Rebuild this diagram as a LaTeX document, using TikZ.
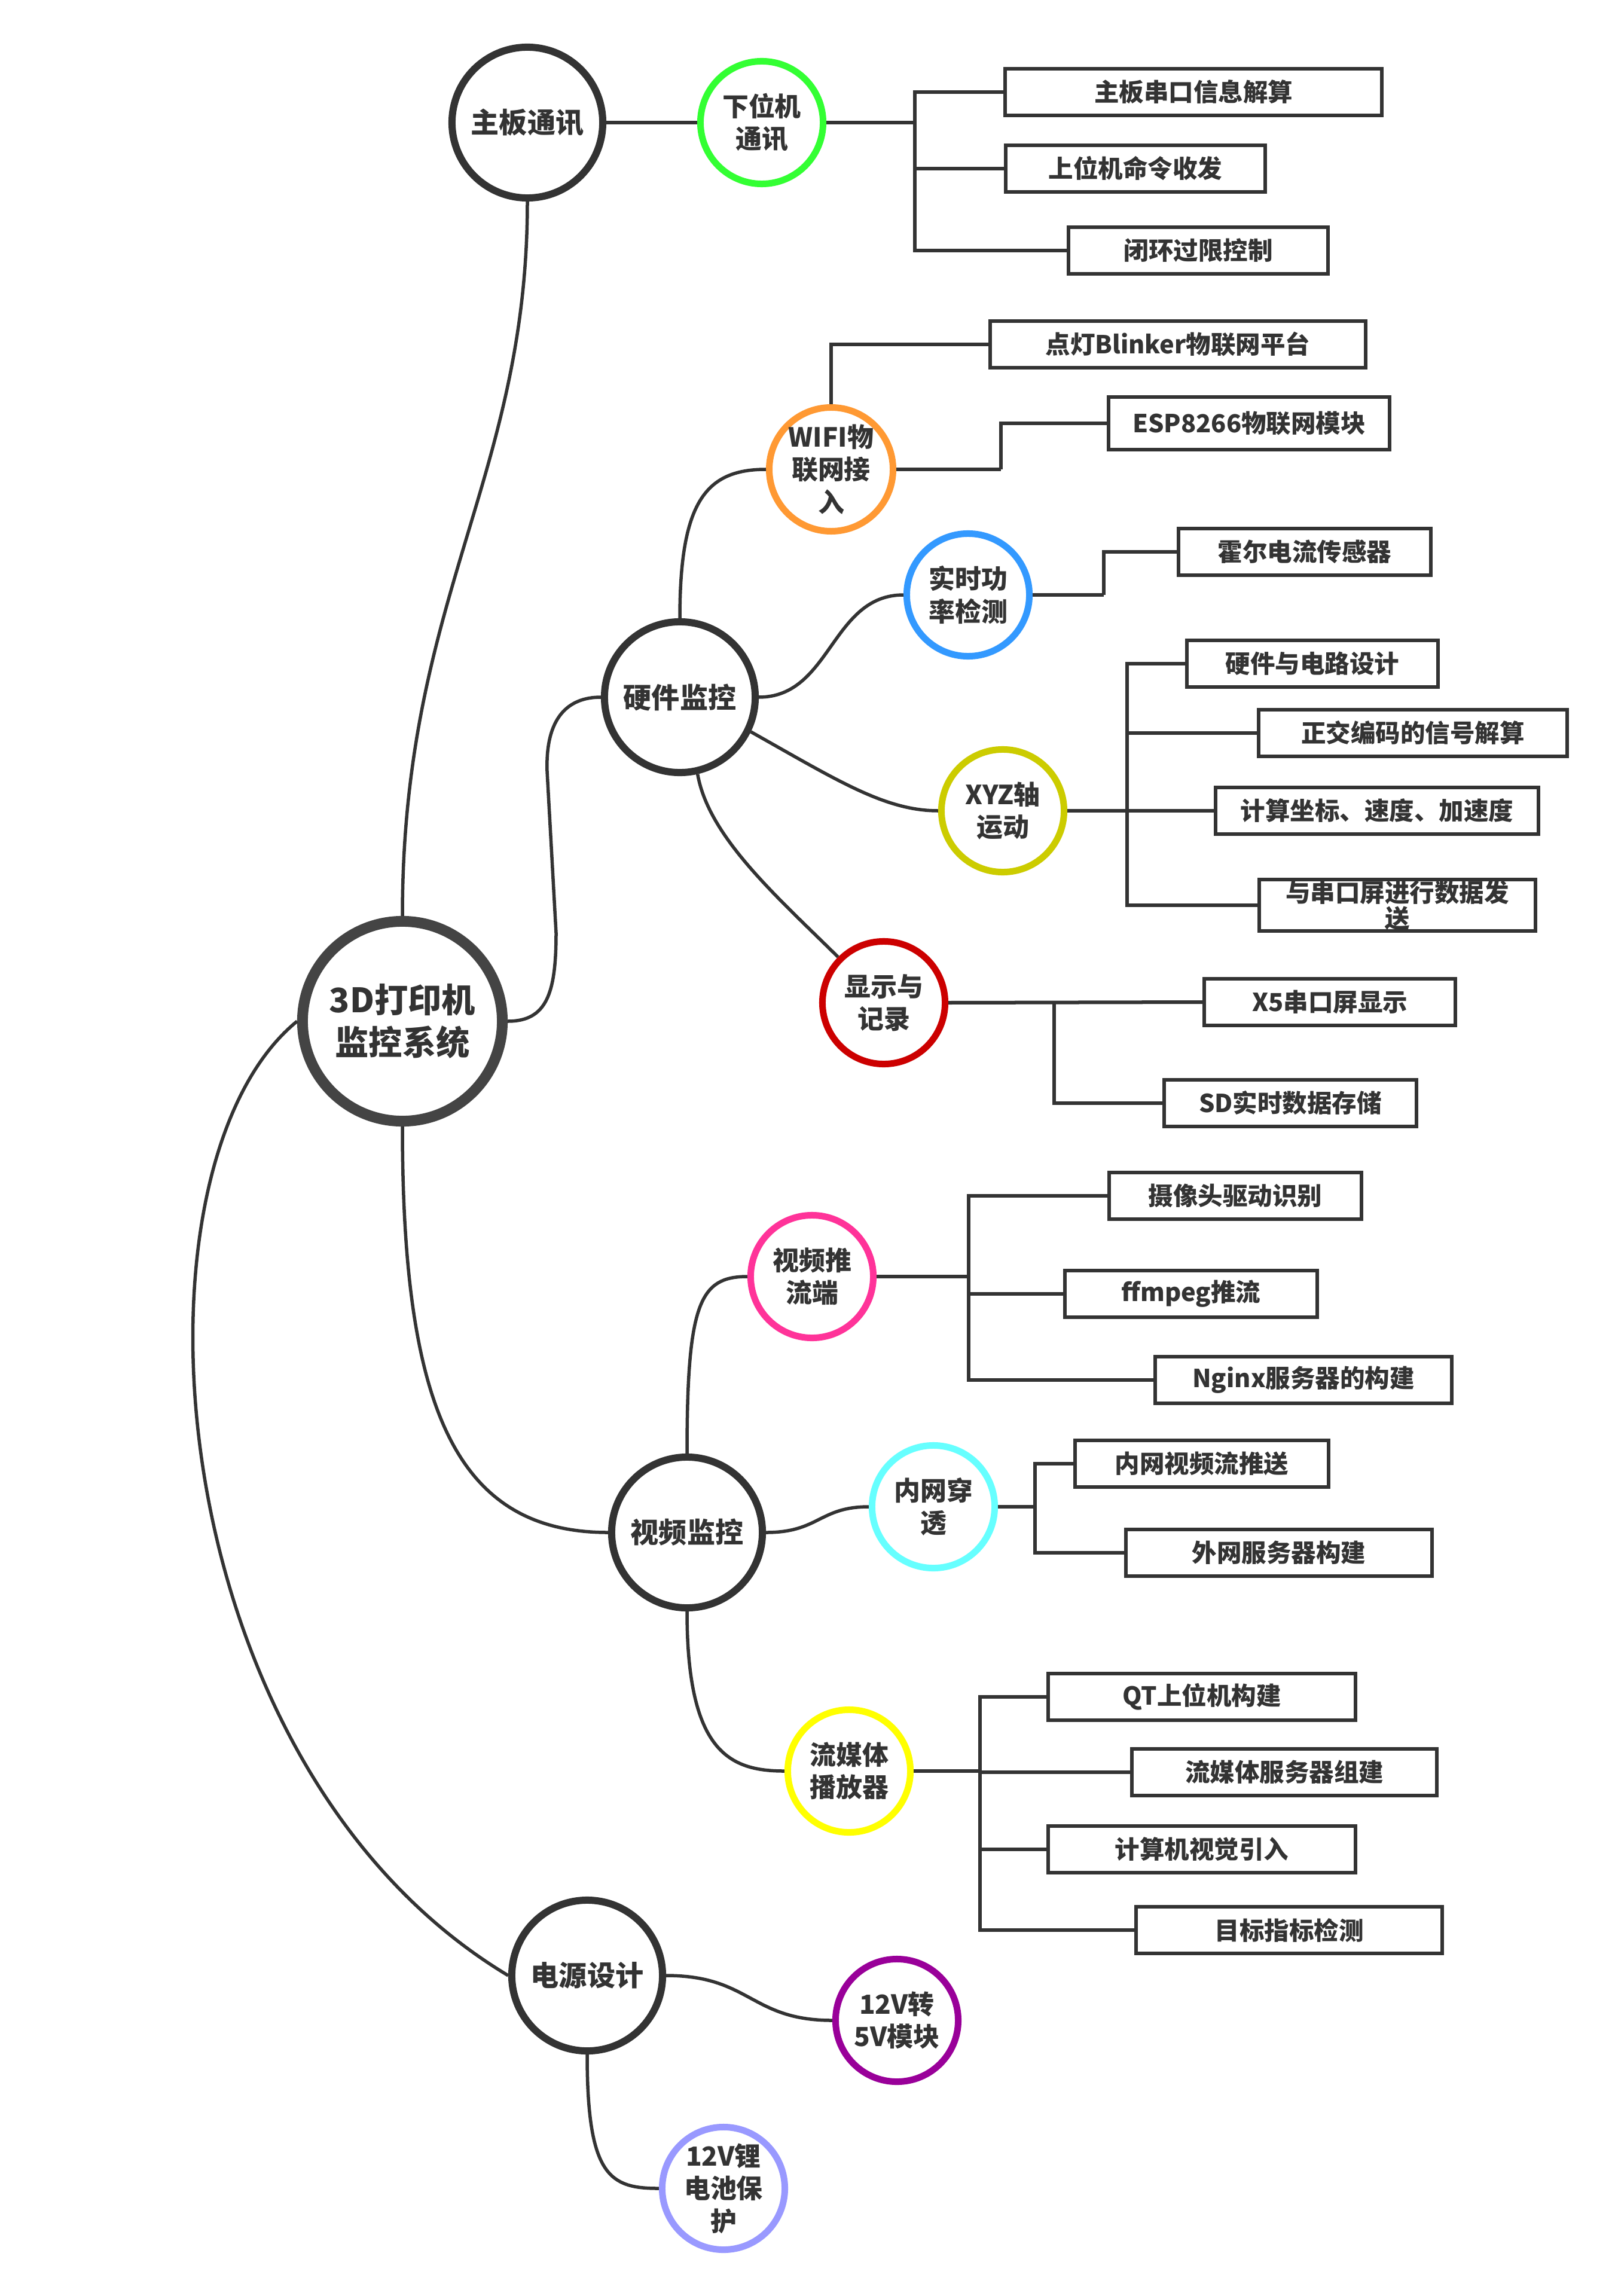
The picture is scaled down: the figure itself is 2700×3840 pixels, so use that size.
\documentclass[tikz,border=0pt]{standalone}
\usepackage{fontspec}
\setmainfont{Noto Sans CJK SC}
\definecolor{ink}{HTML}{333333}
\definecolor{rootline}{HTML}{444444}
\definecolor{cgreen}{HTML}{33FF33}
\definecolor{corange}{HTML}{FF9933}
\definecolor{cblue}{HTML}{3399FF}
\definecolor{colive}{HTML}{CCCC00}
\definecolor{cred}{HTML}{CC0000}
\definecolor{cpink}{HTML}{FF3399}
\definecolor{ccyan}{HTML}{66FFFF}
\definecolor{cyellow}{HTML}{FFFF00}
\definecolor{cpurple}{HTML}{990099}
\definecolor{clavender}{HTML}{9999FF}
\begin{document}
\begin{tikzpicture}[x=0.01cm,y=-0.01cm,
  rootnode/.style={circle, draw=rootline, line width=0.18cm, minimum size=3.34cm,
    inner sep=0pt, align=center, text=ink, fill=white,
    font=\bfseries\fontsize{16}{20}\selectfont},
  topic/.style={circle, draw=ink, line width=0.12cm, minimum size=2.52cm,
    inner sep=0pt, align=center, text=ink, fill=white,
    font=\bfseries\fontsize{13.4}{16}\selectfont},
  subtopic/.style={circle, draw=#1, line width=0.11cm, minimum size=2.05cm,
    inner sep=0pt, align=center, text=ink, fill=white,
    font=\bfseries\fontsize{12.5}{15.5}\selectfont},
  leaf/.style={rectangle, draw=ink, line width=0.06cm, minimum height=0.78cm,
    minimum width=#1, inner sep=0pt, text=ink, fill=white, align=center,
    font=\bfseries\fontsize{11.8}{14}\selectfont},
  elbow/.style={draw=ink, line width=0.06cm},
  branch/.style={draw=ink, line width=0.055cm},
]
\fill[white] (0,0) rectangle (2700,3840);
\useasboundingbox (0,0) rectangle (2700,3840);

% central topic and main branches
\node[rootnode] (root) at (673,1708) {3D打印机\\监控系统};
\node[topic] (board) at (882,205) {主板通讯};
\node[topic] (hw) at (1137,1166) {硬件监控};
\node[topic] (video) at (1149,2563) {视频监控};
\node[topic] (psu) at (982,3304) {电源设计};

% second level
\node[subtopic=cgreen] (lower) at (1274,205) {下位机\\通讯};
\node[subtopic=corange] (wifi) at (1390,785) {WIFI物\\联网接\\入};
\node[subtopic=cblue] (power) at (1619,995) {实时功\\率检测};
\node[subtopic=colive] (xyz) at (1677,1356) {XYZ轴\\运动};
\node[subtopic=cred] (disp) at (1478,1677) {显示与\\记录};
\node[subtopic=cpink] (push) at (1358,2135) {视频推\\流端};
\node[subtopic=ccyan] (nat) at (1561,2520) {内网穿\\透};
\node[subtopic=cyellow] (player) at (1420,2962) {流媒体\\播放器};
\node[subtopic=cpurple] (conv) at (1500,3379) {12V转\\5V模块};
\node[subtopic=clavender] (bat) at (1210,3660) {12V锂\\电池保\\护};

% leaves
\node[leaf=6.29cm] (b11) at (1996,154) {主板串口信息解算};
\node[leaf=4.34cm] (b12) at (1899,282) {上位机命令收发};
\node[leaf=4.33cm] (b13) at (2004,419) {闭环过限控制};
\node[leaf=6.27cm] (b21) at (1970,576) {点灯Blinker物联网平台};
\node[leaf=4.70cm, minimum height=0.88cm] (b22) at (2089,708) {ESP8266物联网模块};
\node[leaf=4.22cm] (b31) at (2182,923) {霍尔电流传感器};
\node[leaf=4.20cm] (b41) at (2195,1110) {硬件与电路设计};
\node[leaf=5.15cm] (b42) at (2363,1226) {正交编码的信号解算};
\node[leaf=5.40cm] (b43) at (2303,1356) {计算坐标、速度、加速度};
\node[leaf=4.61cm, minimum height=0.86cm, font=\bfseries\fontsize{11.8}{12.3}\selectfont] (b44) at (2337,1514) {与串口屏进行数据发\\送};
\node[leaf=4.20cm] (b51) at (2224,1676) {X5串口屏显示};
\node[leaf=4.21cm] (b52) at (2158,1845) {SD实时数据存储};
\node[leaf=4.21cm] (b61) at (2066,2000) {摄像头驱动识别};
\node[leaf=4.22cm] (b62) at (1992,2164) {ffmpeg推流};
\node[leaf=4.95cm] (b63) at (2180,2308) {Nginx服务器的构建};
\node[leaf=4.24cm] (b71) at (2010,2448) {内网视频流推送};
\node[leaf=5.12cm] (b72) at (2139,2597) {外网服务器构建};
\node[leaf=5.13cm] (b81) at (2010,2838) {QT上位机构建};
\node[leaf=5.10cm] (b82) at (2148,2964) {流媒体服务器组建};
\node[leaf=5.13cm] (b83) at (2010,3093) {计算机视觉引入};
\node[leaf=5.11cm] (b84) at (2156,3228) {目标指标检测};

% curved branches between circles
\path[branch] (root.north) .. controls (673,1000) and (882,800) .. (board.south);
\path[branch] (root.east) .. controls (915,1708) and (930,1660) .. (930,1560)
  -- (915,1290) .. controls (912,1200) and (950,1166) .. (hw.west);
\path[branch] (root.south) .. controls (673,2350) and (760,2563) .. (video.west);
\path[branch] (root.west) .. controls (200,1950) and (260,2950) .. (psu.west);
\path[branch] (board.east) -- (lower.west);

\path[branch] (hw.north) .. controls (1137,840) and (1180,785) .. (wifi.west);
\path[branch] (hw.east) .. controls (1390,1166) and (1390,995) .. (power.west);
\path[branch] (hw.-26) .. controls (1400,1305) and (1480,1356) .. (xyz.west);
\path[branch] (hw.-77) .. controls (1185,1400) and (1300,1500) .. (disp.135);

\path[branch] (video.north) .. controls (1149,2180) and (1170,2135) .. (push.west);
\path[branch] (video.east) .. controls (1370,2563) and (1370,2520) .. (nat.west);
\path[branch] (video.south) .. controls (1149,2930) and (1220,2962) .. (player.west);

\path[branch] (psu.east) .. controls (1255,3304) and (1255,3379) .. (conv.west);
\path[branch] (psu.south) .. controls (982,3640) and (1020,3660) .. (bat.west);

% elbow connectors to leaves
\coordinate (busA) at (1530,205);
\path[elbow] (lower.east) -- (busA);
\path[elbow] (busA) |- (b11.west);
\path[elbow] (busA) |- (b12.west);
\path[elbow] (busA) |- (b13.west);

\coordinate (busB) at (1674,785);
\path[elbow] (wifi.north) |- (b21.west);
\path[elbow] (wifi.east) -- (busB);
\path[elbow] (busB) |- (b22.west);

\coordinate (busC) at (1846,995);
\path[elbow] (power.east) -- (busC);
\path[elbow] (busC) |- (b31.west);

\coordinate (busD) at (1885,1356);
\path[elbow] (xyz.east) -- (busD);
\path[elbow] (busD) |- (b41.west);
\path[elbow] (busD) |- (b42.west);
\path[elbow] (busD) |- (b43.west);
\path[elbow] (busD) |- (b44.west);

\coordinate (busE) at (1763,1677);
\path[elbow] (disp.east) -- (b51.west);
\path[elbow] (busE) |- (b52.west);

\coordinate (busF) at (1620,2135);
\path[elbow] (push.east) -- (busF);
\path[elbow] (busF) |- (b61.west);
\path[elbow] (busF) |- (b62.west);
\path[elbow] (busF) |- (b63.west);

\coordinate (busG) at (1731,2520);
\path[elbow] (nat.east) -- (busG);
\path[elbow] (busG) |- (b71.west);
\path[elbow] (busG) |- (b72.west);

\coordinate (busH) at (1639,2962);
\path[elbow] (player.east) -- (busH);
\path[elbow] (busH) |- (b81.west);
\path[elbow] (busH) |- (b82.west);
\path[elbow] (busH) |- (b83.west);
\path[elbow] (busH) |- (b84.west);
\end{tikzpicture}
\end{document}
